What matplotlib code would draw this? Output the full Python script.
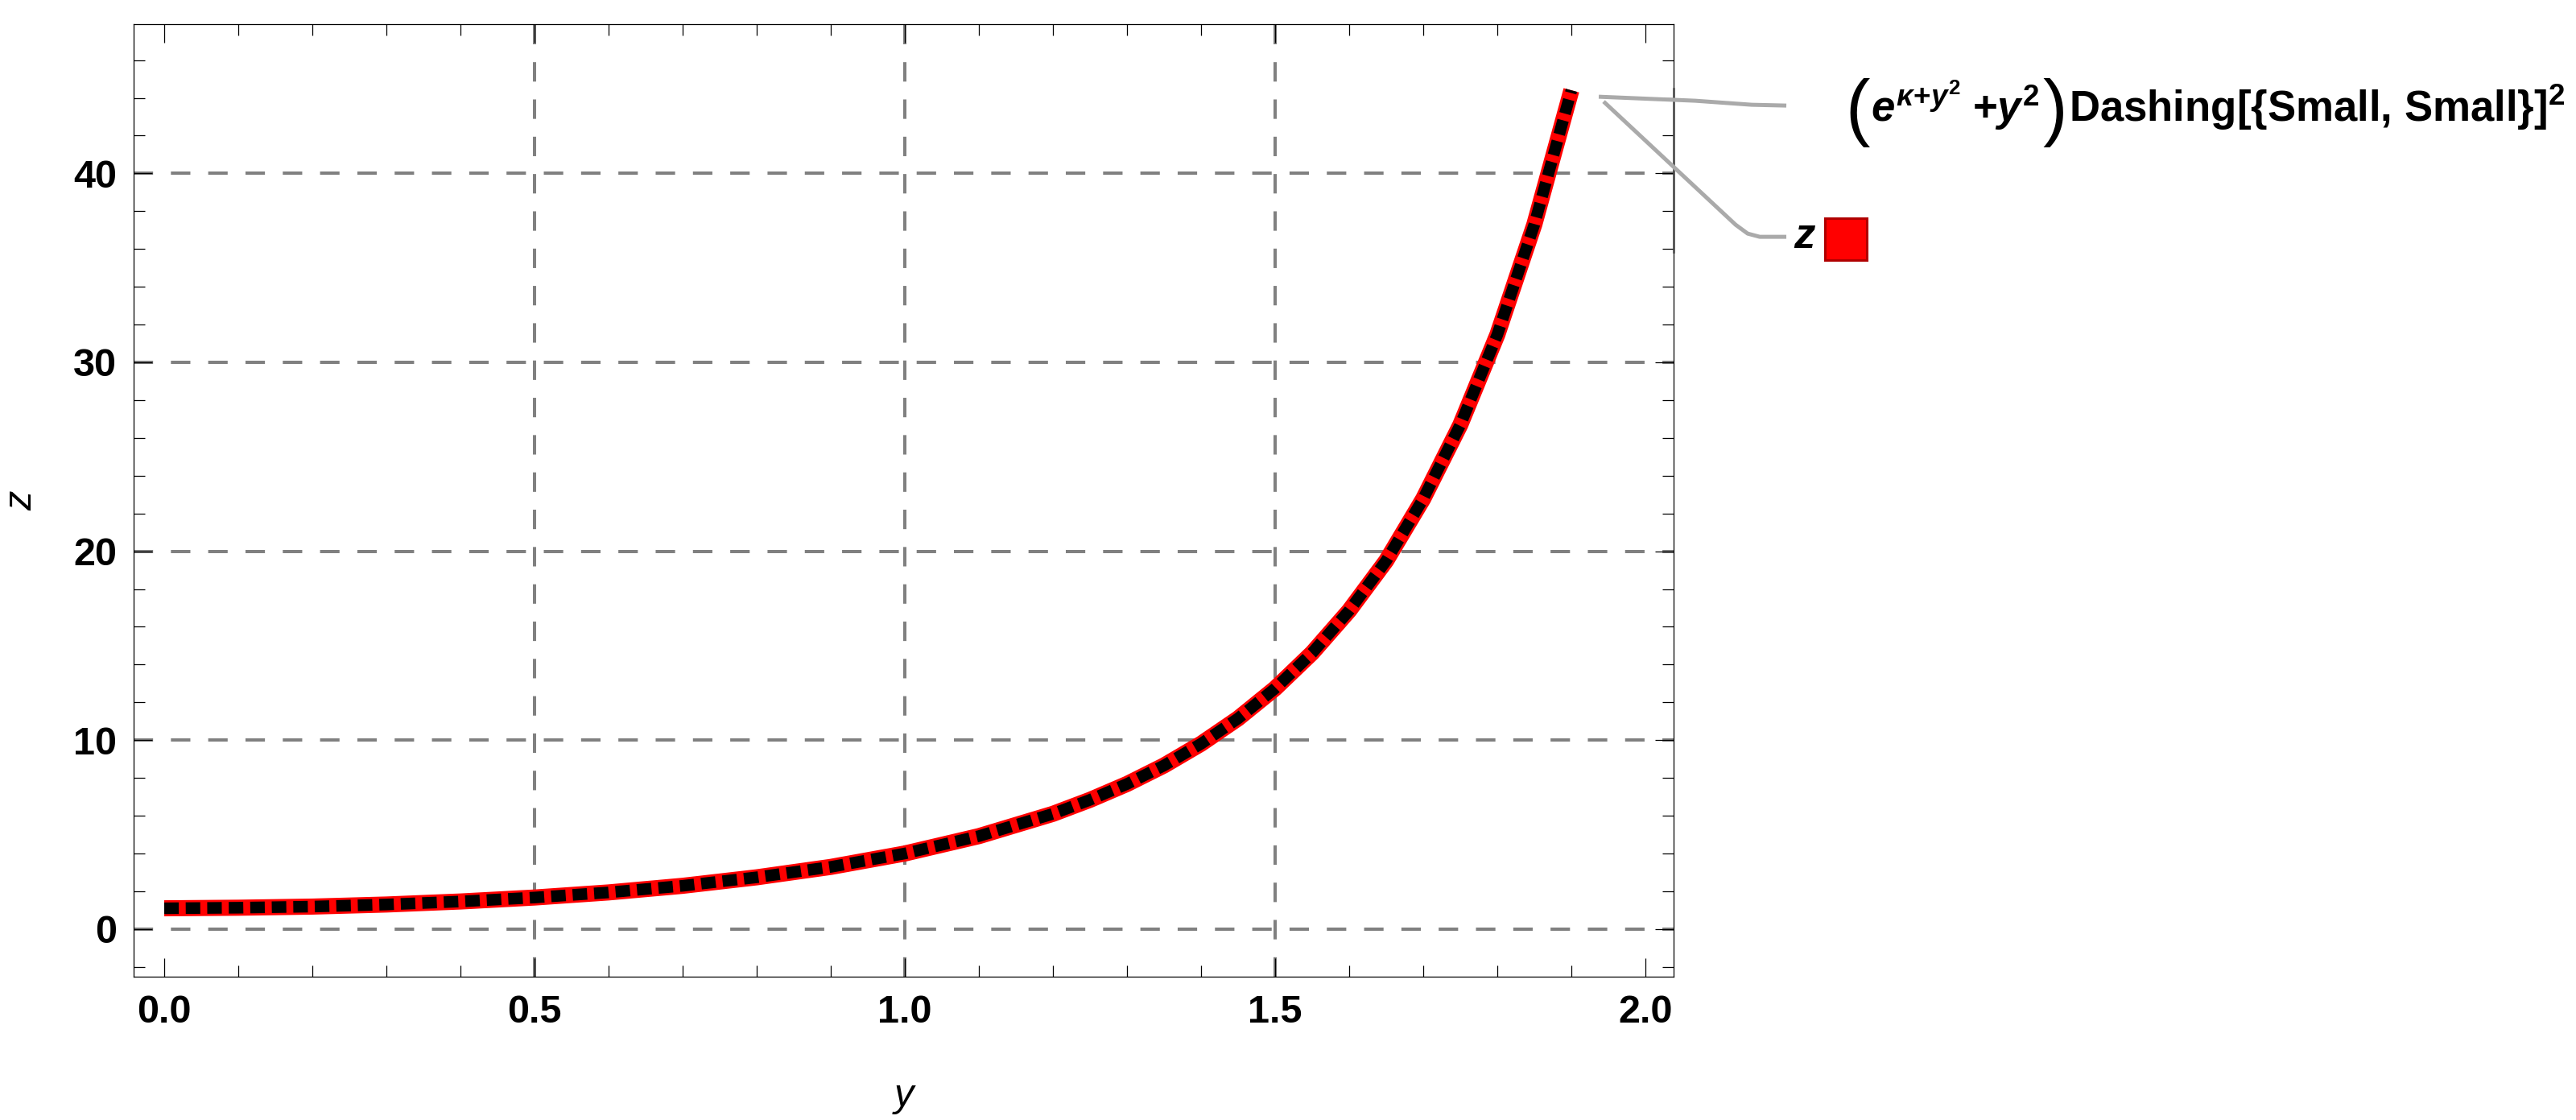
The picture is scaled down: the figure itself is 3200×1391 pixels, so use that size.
import matplotlib
matplotlib.use("Agg")
import matplotlib.pyplot as plt
from matplotlib.lines import Line2D
from matplotlib.patches import Rectangle
from matplotlib.ticker import MultipleLocator
from matplotlib.transforms import IdentityTransform

plt.rcParams['font.family'] = ['Liberation Sans', 'DejaVu Sans']
plt.rcParams['font.weight'] = 'bold'
plt.rcParams['mathtext.fontset'] = 'custom'
plt.rcParams['mathtext.rm'] = 'Liberation Sans:bold'
plt.rcParams['mathtext.it'] = 'Liberation Sans:italic:bold'
plt.rcParams['mathtext.bf'] = 'Liberation Sans:bold'

# curve values
y_vals = [0.0, 0.1, 0.2, 0.3, 0.4, 0.5, 0.6, 0.7, 0.8, 0.9, 1.0, 1.1, 1.2,
          1.25, 1.3, 1.35, 1.4, 1.45, 1.5, 1.55, 1.6, 1.65, 1.7, 1.75, 1.8,
          1.85, 1.9]
z_vals = [1.1, 1.13, 1.19, 1.3, 1.46, 1.67, 1.94, 2.29, 2.74, 3.29, 4.0,
          4.92, 6.1, 6.84, 7.68, 8.66, 9.81, 11.15, 12.74, 14.62, 16.86,
          19.5, 22.78, 26.69, 31.46, 37.3, 44.4]

x_ticks = [0.0, 0.5, 1.0, 1.5, 2.0]
x_ticklabels = ['0.0', '0.5', '1.0', '1.5', '2.0']
z_ticks = [0, 10, 20, 30, 40]
x_grid = [0.5, 1.0, 1.5]
z_grid = [0, 10, 20, 30, 40]

# callout label, in pieces so the brackets can be drawn tall
label_expr = r'$e^{\kappa{+}y^2}\;{+}y^2$'
label_rest = r'Dashing[{Small, Small}]$^2$'
series_label = 'z'

W, H = 3200, 1391
fig = plt.figure(figsize=(W / 100, H / 100), dpi=100)
ax = fig.add_axes([166 / W, 1 - 1213 / H, (2079 - 166) / W, (1213 - 30) / H])

ax.set_xlim(-0.0413, 2.038)
ax.set_ylim(-2.52, 47.9)

# dashed grid
for g in x_grid:
    ax.axvline(g, color='#808080', lw=2.9, linestyle=(0, (6, 5.5)), zorder=1)
for g in z_grid:
    ax.axhline(g, color='#808080', lw=2.9, linestyle=(0, (6, 5.5)), zorder=1)

# red thick line with black dashes on top
ax.plot(y_vals, z_vals, color='#ff0000', lw=14.4, solid_capstyle='butt',
        solid_joinstyle='round', zorder=3)
ax.plot(y_vals, z_vals, color='black', lw=10.4, linestyle=(0, (1.25, 0.6)),
        dash_capstyle='butt', zorder=4)

ax.set_xticks(x_ticks)
ax.set_xticklabels(x_ticklabels)
ax.set_yticks(z_ticks)
ax.xaxis.set_minor_locator(MultipleLocator(0.1))
ax.yaxis.set_minor_locator(MultipleLocator(2))
ax.tick_params(which='both', direction='in', top=True, right=True, width=0.9)
ax.tick_params(which='major', length=16.6, labelsize=35)
ax.tick_params(which='minor', length=10)
ax.tick_params(axis='x', pad=16)
ax.tick_params(axis='y', pad=15)
for s in ax.spines.values():
    s.set_linewidth(0.9)

ax.set_xlabel('y', fontsize=35, style='italic', labelpad=42)
ax.set_ylabel('z', fontsize=35, style='italic', labelpad=30)

# darker piece of the right frame next to the callouts
ax.plot([1, 1], [0.761, 0.932], transform=ax.transAxes, color='#444444',
        lw=1.8, clip_on=False, zorder=5)

# callout leaders, offsets in pixels from the end of the curve
ex, ey = ax.transData.transform((y_vals[-1], z_vals[-1]))
upper = [(34, 8), (154, 13), (224, 18), (267, 19)]
lower = [(40, 14), (204, 167), (219, 178), (234, 182), (267, 182)]
for pts in (upper, lower):
    fig.add_artist(Line2D([ex + dx for dx, dy in pts], [ey - dy for dx, dy in pts],
                          transform=IdentityTransform(), color='#aaaaaa',
                          lw=3.6, solid_capstyle='butt'))

renderer = fig.canvas.get_renderer()


def put(x, ytop, s, **kw):
    t = fig.text(x / W, 1 - ytop / H, s, ha='left', va='baseline', **kw)
    return t.get_window_extent(renderer).x1


base = 151
x1 = put(2292, base + 13, '(', fontsize=66, fontweight='normal')
x1 = put(max(2318, x1 + 1), base, label_expr, fontsize=38)
x1 = put(max(2534, x1 + 4), base + 13, ')', fontsize=66, fontweight='normal')
put(max(2562, x1 + 2), base, label_rest, fontsize=38)

put(2228, 308, series_label, fontsize=38, style='italic')
fig.add_artist(Rectangle((2267 / W, 1 - 323 / H), 52 / W, 52 / H,
                         transform=fig.transFigure, facecolor='#ff0000',
                         edgecolor='#b00000', lw=2.2))

fig.savefig('out.png', dpi=100)
